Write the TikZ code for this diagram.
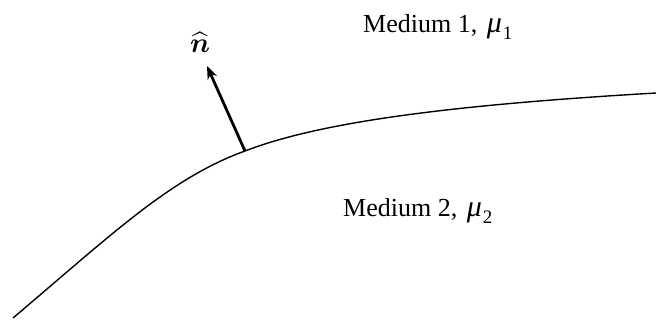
\documentclass[tikz,border=0pt]{standalone}
\usepackage{amsmath,bm,graphicx}
\usepackage{fontspec}
\setmainfont{Liberation Serif}
\usetikzlibrary{arrows.meta}

\tikzset{
  medlabel/.style={inner sep=0pt,anchor=base west,font=\fontsize{26}{30}\selectfont},
  normalarrow/.style={line width=2.8pt,-{Stealth[length=13pt,width=10pt]}}
}
\newcommand{\mulabel}[1]{\hspace{3pt}{\fontsize{30}{30}\selectfont\textit{μ}}\hspace{1pt}\raisebox{-.25em}{\fontsize{19}{20}\selectfont #1}}

\begin{document}
\begin{tikzpicture}[x=1pt,y=-1pt]
  \useasboundingbox (0,0) rectangle (656,323);
  \coordinate (start) at (13,318);
  \coordinate (base) at (245,151);
  \coordinate (end) at (656,93);
  \coordinate (tip) at (207,66);
  \draw[line width=1.4pt] (start) .. controls (110,236) and (170,178) .. (base) .. controls (320,122) and (450,105) .. (end);
  \draw[normalarrow] (base) -- (tip);
  \node[inner sep=0pt,anchor=base] (nhat) at (200,53) {\scalebox{1.35}{\fontsize{20}{24}\selectfont$\widehat{\bm n}$}};
  \node[medlabel] (med1) at (363,33) {Medium 1, \mulabel{1}};
  \node[medlabel] (med2) at (343,217) {Medium 2, \mulabel{2}};
\end{tikzpicture}
\end{document}
